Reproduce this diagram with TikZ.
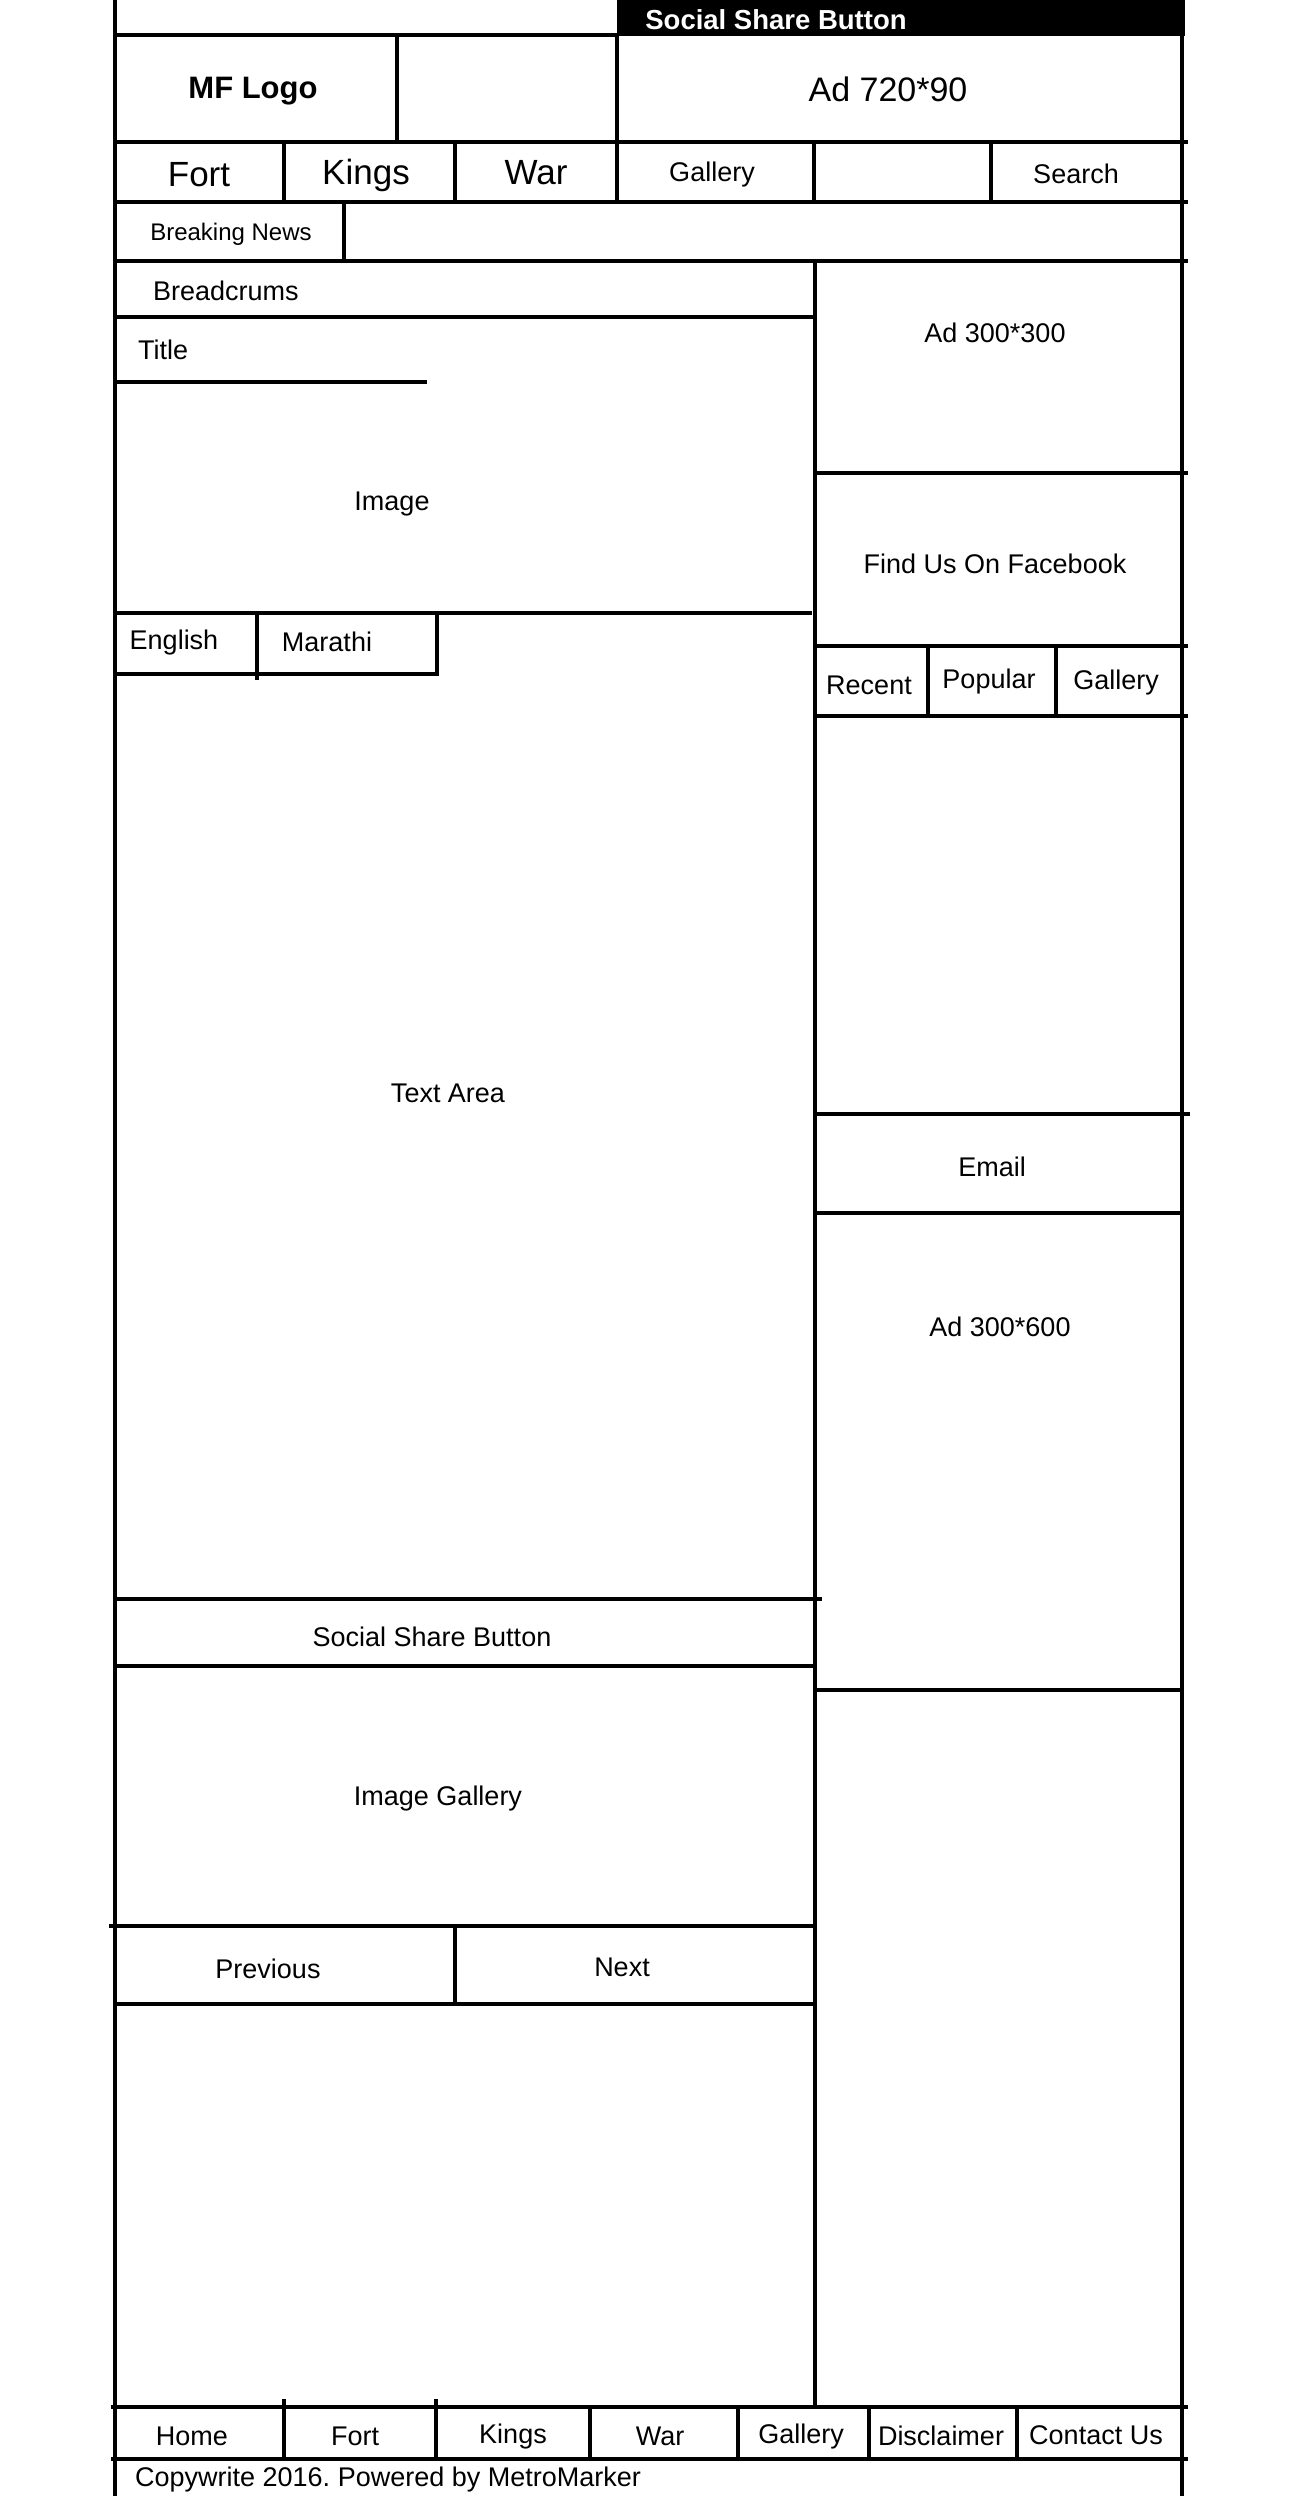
\documentclass[tikz,border=0pt]{standalone}
\usepackage{fontspec}
\setmainfont{Liberation Sans}
\frenchspacing
\begin{document}
\begin{tikzpicture}[x=1pt,y=-1pt,
  wire/.style={line width=4.7pt,line cap=rect},
  lbl/.style={font=\fontsize{27}{32}\selectfont,inner sep=0pt},
  bignav/.style={font=\fontsize{35}{40}\selectfont,inner sep=0pt},
  ]
\useasboundingbox[fill=white] (0,0) rectangle (1304,2496);
% top black bar
\fill (617,0) rectangle (1185,36);
\node[inner sep=0pt,text=white,font=\bfseries\fontsize{27.5}{32}\selectfont] (topshare) at (776,20) {Social Share Button};
% outer borders
\draw[wire] (115,0) -- (115,2496);
\draw[wire] (1182,0) -- (1182,2496);
% header
\draw[wire] (115,35) -- (617,35);
\draw[wire] (115,142) -- (1186,142);
\draw[wire] (397,35) -- (397,142);
\draw[wire] (617,35) -- (617,202);
% nav
\draw[wire] (115,202) -- (1186,202);
\foreach \x in {284,455,814,991} \draw[wire] (\x,142) -- (\x,202);
% breaking news
\draw[wire] (115,261) -- (1186,261);
\draw[wire] (344,202) -- (344,261);
% right column separator
\draw[wire] (815,261) -- (815,2407);
% left column
\draw[wire] (115,317) -- (815,317);
\draw[wire] (115,382) -- (425,382);
\draw[wire] (115,613) -- (810,613);
\draw[wire] (115,674) -- (437,674) -- (437,613);
\draw[wire] (257,613) -- (257,678);
\draw[wire] (115,1599) -- (820,1599);
\draw[wire] (115,1666) -- (815,1666);
\draw[wire] (111,1926) -- (815,1926);
\draw[wire] (455,1926) -- (455,2004);
\draw[wire] (115,2004) -- (815,2004);
% right column
\draw[wire] (815,473) -- (1186,473);
\draw[wire] (815,646) -- (1186,646);
\draw[wire] (815,716) -- (1186,716);
\draw[wire] (928,646) -- (928,716);
\draw[wire] (1056,646) -- (1056,716);
\draw[wire] (815,1114) -- (1188,1114);
\draw[wire] (815,1213) -- (1182,1213);
\draw[wire] (815,1690) -- (1182,1690);
% footer
\draw[wire] (113,2407) -- (1186,2407);
\draw[wire] (113,2459) -- (1186,2459);
\foreach \x in {284,436} \draw[wire] (\x,2401) -- (\x,2459);
\foreach \x in {590,738,869,1017} \draw[wire] (\x,2407) -- (\x,2459);
% header texts
\node[inner sep=0pt,font=\bfseries\fontsize{31}{36}\selectfont] (logo) at (253,91) {MF Logo};
\node[inner sep=0pt,font=\fontsize{34}{40}\selectfont] (ad720) at (888,89) {Ad 720*90};
\node[bignav] (nfort) at (199,175) {Fort};
\node[bignav] (nkings) at (366,175) {Kings};
\node[bignav] (nwar) at (536,173) {War};
\node[lbl] (ngallery) at (712,175) {Gallery};
\node[lbl] (nsearch) at (1076,174) {Search};
\node[inner sep=0pt,font=\fontsize{24}{28}\selectfont] (breaking) at (231,234) {Breaking News};
% left texts
\node[lbl,anchor=west] (crumbs) at (153,291) {Breadcrums};
\node[lbl,anchor=west] (title) at (138,350) {Title};
\node[lbl] (image) at (392,504) {Image};
\node[lbl] (english) at (174,643) {English};
\node[lbl] (marathi) at (327,642) {Marathi};
\node[lbl] (textarea) at (448,1093) {Text Area};
\node[lbl] (share) at (432,1637) {Social Share Button};
\node[lbl] (gallery) at (438,1798) {Image Gallery};
\node[lbl] (prev) at (268,1969) {Previous};
\node[lbl] (next) at (622,1967) {Next};
% right texts
\node[lbl] (ad300) at (995,333) {Ad 300*300};
\node[lbl] (fb) at (995,564) {Find Us On Facebook};
\node[lbl] (recent) at (869,685) {Recent};
\node[lbl] (popular) at (989,682) {Popular};
\node[lbl] (tgallery) at (1116,683) {Gallery};
\node[lbl] (email) at (992,1167) {Email};
\node[lbl] (ad600) at (1000,1327) {Ad 300*600};
% footer texts
\node[lbl] (fhome) at (192,2436) {Home};
\node[lbl] (ffort) at (355,2436) {Fort};
\node[lbl] (fkings) at (513,2436) {Kings};
\node[lbl] (fwar) at (660,2436) {War};
\node[lbl] (fgallery) at (801,2436) {Gallery};
\node[lbl] (fdisc) at (941,2436) {Disclaimer};
\node[lbl] (fcontact) at (1096,2435) {Contact Us};
\node[lbl,anchor=west] (copy) at (135,2479) {Copywrite 2016. Powered by MetroMarker};
\end{tikzpicture}
\end{document}
